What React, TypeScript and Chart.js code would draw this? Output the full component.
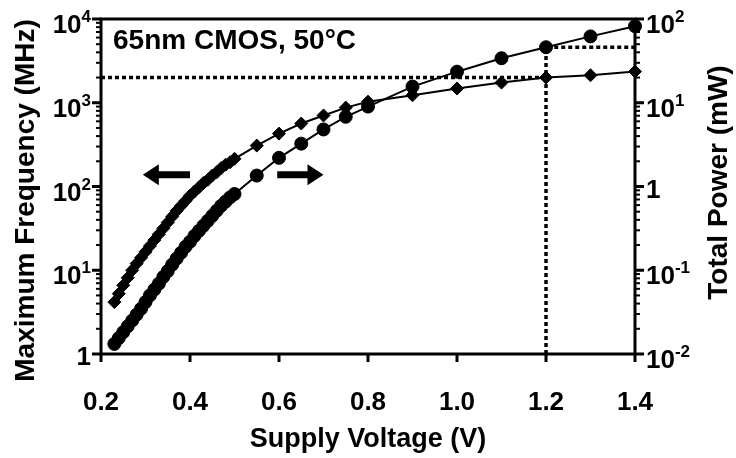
import React, { useEffect, useRef } from "react";
import { Chart, registerables } from "chart.js";

Chart.register(...registerables);

// ---------- data ----------
const supplyVoltage = [
  0.23, 0.24, 0.25, 0.26, 0.27, 0.28, 0.29, 0.30, 0.31, 0.32, 0.33, 0.34, 0.35, 0.36,
  0.37, 0.38, 0.39, 0.40, 0.41, 0.42, 0.43, 0.44, 0.45, 0.46, 0.47, 0.48, 0.49, 0.50,
  0.55, 0.60, 0.65, 0.70, 0.75, 0.80, 0.90, 1.00, 1.10, 1.20, 1.30, 1.40,
];
const maxFrequencyMHz = [
  4.17, 5.25, 6.61, 8.13, 10.0, 12.0, 14.1, 16.6, 19.5, 22.9, 26.9, 31.6, 37.2, 43.7,
  51.3, 58.9, 67.6, 77.6, 87.1, 97.7, 110, 120, 135, 148, 166, 182, 195, 214,
  308, 428, 565, 705, 875, 1030, 1230, 1480, 1740, 2000, 2130, 2360,
];
const totalPowerMW = [
  0.0132, 0.0155, 0.0182, 0.0214, 0.0251, 0.0295, 0.0347, 0.0417, 0.0501, 0.0589, 0.0692,
  0.0832, 0.0977, 0.117, 0.138, 0.162, 0.191, 0.219, 0.257, 0.295, 0.339, 0.389, 0.447,
  0.513, 0.589, 0.661, 0.741, 0.813,
  1.35, 2.2, 3.25, 4.8, 6.8, 9.0, 15.6, 23.5, 34, 46, 62, 82,
];

const xTickValues = [0.2, 0.4, 0.6, 0.8, 1.0, 1.2, 1.4];
const xTickLabels = ["0.2", "0.4", "0.6", "0.8", "1.0", "1.2", "1.4"];
const freqTickValues = [1, 10, 100, 1000, 10000];
const freqTickBase = ["1", "10", "10", "10", "10"];
const freqTickExp = ["", "1", "2", "3", "4"];
const powerTickValues = [0.01, 0.1, 1, 10, 100];
const powerTickBase = ["10", "10", "1", "10", "10"];
const powerTickExp = ["-2", "-1", "", "1", "2"];

const refVoltage = [1.2];
const refFrequencyMHz = [2000];
const refPowerMW = [46];

const annotationText = "65nm CMOS, 50°C";
const xTitle = "Supply Voltage (V)";
const yTitle = "Maximum Frequency (MHz)";
const y2Title = "Total Power (mW)";

// arrows (data coordinates on the frequency axis)
const leftArrowV = [0.40, 0.294];
const rightArrowV = [0.596, 0.70];
const arrowFreqMHz = [138];

const FONT = '"Liberation Sans", Arial, Helvetica, sans-serif';

const decorPlugin = {
  id: "decor",
  afterDraw(chart: any) {
    const { ctx, chartArea: a, scales } = chart;
    const sx = scales.x;
    const sy = scales.y;
    const sy2 = scales.y2;
    ctx.save();
    ctx.strokeStyle = "#000";
    ctx.fillStyle = "#000";
    ctx.lineCap = "butt";

    const line = (x1: number, y1: number, x2: number, y2: number, w: number) => {
      ctx.lineWidth = w;
      ctx.beginPath();
      ctx.moveTo(x1, y1);
      ctx.lineTo(x2, y2);
      ctx.stroke();
    };

    // frame
    ctx.lineWidth = 3;
    ctx.strokeRect(a.left, a.top, a.right - a.left, a.bottom - a.top);

    // x ticks + labels
    ctx.font = `bold 26px ${FONT}`;
    ctx.textAlign = "center";
    ctx.textBaseline = "alphabetic";
    xTickValues.forEach((v, i) => {
      const px = sx.getPixelForValue(v);
      line(px, a.bottom, px, a.bottom + 8, 3);
      ctx.fillText(xTickLabels[i], px, a.bottom + 56);
    });

    // log ticks
    const logTicks = (scale: any, min: number, max: number, side: "left" | "right") => {
      const e0 = Math.round(Math.log10(min));
      const e1 = Math.round(Math.log10(max));
      for (let e = e0; e <= e1; e++) {
        for (let m = 1; m <= 9; m++) {
          const v = m * Math.pow(10, e);
          if (v > max * 1.0001) break;
          const py = scale.getPixelForValue(v);
          const major = m === 1;
          const len = major ? 9 : 5;
          if (side === "left") line(a.left, py, a.left - len, py, major ? 3 : 2);
          else line(a.right, py, a.right + len, py, major ? 3 : 2);
        }
      }
    };
    logTicks(sy, 1, 10000, "left");
    logTicks(sy2, 0.01, 100, "right");

    const expLabel = (base: string, exp: string, px: number, py: number, align: "left" | "right") => {
      ctx.textAlign = "left";
      ctx.font = `bold 26px ${FONT}`;
      const bw = ctx.measureText(base).width;
      ctx.font = `bold 17px ${FONT}`;
      const ew = exp ? ctx.measureText(exp).width : 0;
      const total = bw + ew;
      const x0 = align === "right" ? px - total : px;
      ctx.font = `bold 26px ${FONT}`;
      if (exp) {
        ctx.fillText(base, x0, py + 14);
        ctx.font = `bold 17px ${FONT}`;
        ctx.fillText(exp, x0 + bw, py + 3);
      } else {
        ctx.fillText(base, x0, py + 11);
      }
    };
    freqTickValues.forEach((v, i) => {
      expLabel(freqTickBase[i], freqTickExp[i], a.left - 10, sy.getPixelForValue(v), "right");
    });
    powerTickValues.forEach((v, i) => {
      expLabel(powerTickBase[i], powerTickExp[i], a.right + 11, sy2.getPixelForValue(v), "left");
    });

    // titles
    ctx.font = `bold 27px ${FONT}`;
    ctx.textAlign = "center";
    ctx.textBaseline = "alphabetic";
    ctx.fillText(xTitle, (a.left + a.right) / 2, a.bottom + 93);

    ctx.save();
    ctx.translate(34, (a.top + a.bottom) / 2 + 14);
    ctx.rotate(-Math.PI / 2);
    ctx.font = `bold 28px ${FONT}`;
    ctx.fillText(yTitle, 0, 0);
    ctx.restore();

    ctx.save();
    ctx.translate(727, (a.top + a.bottom) / 2 - 4);
    ctx.rotate(-Math.PI / 2);
    ctx.font = `bold 28px ${FONT}`;
    ctx.fillText(y2Title, 0, 0);
    ctx.restore();

    // annotation text
    ctx.font = `bold 28px ${FONT}`;
    ctx.textAlign = "left";
    ctx.fillText(annotationText, a.left + 12, a.top + 30);

    // arrows
    const arrow = (vFrom: number, vTo: number) => {
      const yA = sy.getPixelForValue(arrowFreqMHz[0]);
      const xF = sx.getPixelForValue(vFrom);
      const xT = sx.getPixelForValue(vTo);
      const dir = Math.sign(xT - xF);
      const headLen = 16;
      const headHalf = 10.5;
      const shaftHalf = 3.5;
      const xb = xT - dir * headLen;
      ctx.beginPath();
      ctx.moveTo(xF, yA - shaftHalf);
      ctx.lineTo(xb, yA - shaftHalf);
      ctx.lineTo(xb, yA - headHalf);
      ctx.lineTo(xT, yA);
      ctx.lineTo(xb, yA + headHalf);
      ctx.lineTo(xb, yA + shaftHalf);
      ctx.lineTo(xF, yA + shaftHalf);
      ctx.closePath();
      ctx.fill();
    };
    arrow(leftArrowV[0], leftArrowV[1]);
    arrow(rightArrowV[0], rightArrowV[1]);

    ctx.restore();
  },
};

export default function App() {
  const canvasRef = useRef<HTMLCanvasElement | null>(null);

  useEffect(() => {
    document.body.style.margin = "0";
    const canvas = canvasRef.current;
    if (!canvas) return;
    const freqData = supplyVoltage.map((v, i) => ({ x: v, y: maxFrequencyMHz[i] }));
    const powerData = supplyVoltage.map((v, i) => ({ x: v, y: totalPowerMW[i] }));
    const chart = new Chart(canvas, {
      type: "line",
      data: {
        datasets: [
          {
            label: "Maximum Frequency",
            data: freqData,
            yAxisID: "y",
            borderColor: "#000",
            borderWidth: 2,
            pointStyle: "rectRot",
            pointRadius: 6.5,
            pointBackgroundColor: "#000",
            pointBorderColor: "#000",
            pointBorderWidth: 1,
            clip: false,
            tension: 0,
          } as any,
          {
            label: "Total Power",
            data: powerData,
            yAxisID: "y2",
            borderColor: "#000",
            borderWidth: 2,
            pointStyle: "circle",
            pointRadius: 6.5,
            pointBackgroundColor: "#000",
            pointBorderColor: "#000",
            pointBorderWidth: 1,
            clip: false,
            tension: 0,
          } as any,
          {
            label: "ref freq",
            data: [
              { x: xTickValues[0], y: refFrequencyMHz[0] },
              { x: refVoltage[0], y: refFrequencyMHz[0] },
            ],
            yAxisID: "y",
            borderColor: "#000",
            borderWidth: 3.5,
            borderDash: [4, 3],
            pointRadius: 0,
            clip: false,
          } as any,
          {
            label: "ref power",
            data: [
              { x: refVoltage[0], y: powerTickValues[0] },
              { x: refVoltage[0], y: refPowerMW[0] },
              { x: xTickValues[xTickValues.length - 1], y: refPowerMW[0] },
            ],
            yAxisID: "y2",
            borderColor: "#000",
            borderWidth: 3.5,
            borderDash: [4, 3],
            pointRadius: 0,
            clip: false,
          } as any,
        ],
      },
      options: {
        responsive: false,
        animation: false,
        layout: { padding: { left: 101, right: 101, top: 19, bottom: 104 } },
        plugins: { legend: { display: false }, tooltip: { enabled: false } },
        scales: {
          x: { type: "linear", min: 0.2, max: 1.4, display: false },
          y: { type: "logarithmic", min: 1, max: 10000, display: false },
          y2: { type: "logarithmic", min: 0.01, max: 100, display: false },
        },
      },
      plugins: [decorPlugin],
    });
    return () => chart.destroy();
  }, []);

  return (
    <canvas
      ref={canvasRef}
      width={736}
      height={458}
      style={{ position: "fixed", left: 0, top: 0, display: "block" }}
    />
  );
}
